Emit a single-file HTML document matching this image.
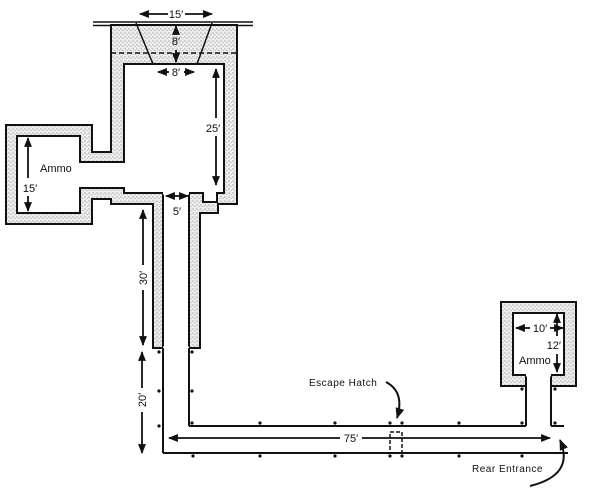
<!DOCTYPE html>
<html><head><meta charset="utf-8"><style>
html,body{margin:0;padding:0;background:#fff;}
svg{display:block;}
text{font-family:"Liberation Sans",sans-serif;fill:#111;}
</style></head><body>
<svg width="600" height="490" viewBox="0 0 600 490" xmlns="http://www.w3.org/2000/svg">
<defs>
<pattern id="st" width="4" height="4" patternUnits="userSpaceOnUse">
<rect width="4" height="4" fill="#ececec"/>
<circle cx="1" cy="1" r="0.55" fill="#666"/>
<circle cx="3" cy="2.6" r="0.45" fill="#888"/>
</pattern>
<marker id="ah" viewBox="0 0 10 10" refX="9" refY="5" markerWidth="5.5" markerHeight="5.5" orient="auto-start-reverse">
<path d="M0,1 L10,5 L0,9 z" fill="#111"/></marker>
</defs>
<g stroke="#111" stroke-width="2" fill="none">
<line x1="93" y1="22" x2="253" y2="22" stroke-width="1.5"/>
<line x1="93" y1="25.5" x2="253" y2="25.5" stroke-width="1.5"/>
<path fill="url(#st)" fill-rule="evenodd" d="M111,25 L237,25 L237,204 L218,204 L218,213 L200,213 L200,348 L153,348 L153,204 L111,204 L111,199 L92,199 L92,224 L6,224 L6,125 L92,125 L92,152 L111,152 Z
M124,64 L224,64 L224,193 L217,193 L217,202 L203,202 L203,193 L189,193 L189,348 L163,348 L163,193 L124,193 L124,188 L80,188 L80,213 L17,213 L17,136 L80,136 L80,162 L124,162 Z"/>
<line x1="163" y1="193" x2="189" y2="193" stroke="#fff" stroke-width="3"/>
<line x1="163" y1="348" x2="189" y2="348" stroke="#fff" stroke-width="3"/>
<line x1="136" y1="23" x2="153" y2="64" stroke-width="1.5"/>
<line x1="212" y1="23" x2="197" y2="64" stroke-width="1.5"/>
<line x1="111" y1="53" x2="237" y2="53" stroke-width="1.5" stroke-dasharray="5,3"/>
<line x1="163" y1="348" x2="163" y2="453"/>
<line x1="163" y1="453" x2="568" y2="453"/>
<line x1="189" y1="348" x2="189" y2="426"/>
<line x1="189" y1="426" x2="526" y2="426"/>
<line x1="526" y1="426" x2="526" y2="375"/>
<line x1="551" y1="375" x2="551" y2="426"/>
<line x1="551" y1="426" x2="564" y2="426"/>
<path fill="url(#st)" fill-rule="evenodd" d="M501,302 L576,302 L576,386 L551,386 L551,375 L526,375 L526,386 L501,386 Z M513,313 L564,313 L564,375 L551,375 L526,375 L513,375 Z"/>
<line x1="526" y1="375" x2="551" y2="375" stroke="#fff" stroke-width="3"/>
<rect x="390" y="432" width="12" height="21" stroke-width="1.5" stroke-dasharray="4,2"/>
</g>
<g fill="#111">
<circle cx="159" cy="352" r="1.6"/><circle cx="159" cy="391" r="1.6"/><circle cx="159" cy="426" r="1.6"/>
<circle cx="192" cy="352" r="1.6"/><circle cx="192" cy="391" r="1.6"/>
<circle cx="192" cy="423" r="1.6"/><circle cx="260" cy="423" r="1.6"/><circle cx="335" cy="423" r="1.6"/><circle cx="390" cy="423" r="1.6"/><circle cx="402" cy="423" r="1.6"/><circle cx="459" cy="423" r="1.6"/><circle cx="522" cy="423" r="1.6"/>
<circle cx="193" cy="456" r="1.6"/><circle cx="260" cy="456" r="1.6"/><circle cx="335" cy="456" r="1.6"/><circle cx="390" cy="456" r="1.6"/><circle cx="402" cy="456" r="1.6"/><circle cx="459" cy="456" r="1.6"/><circle cx="522" cy="456" r="1.6"/>
<circle cx="522" cy="389" r="1.6"/><circle cx="555" cy="389" r="1.6"/><circle cx="555" cy="423" r="1.6"/>
</g>
<g stroke="#111" stroke-width="1.8" fill="none" marker-start="url(#ah)" marker-end="url(#ah)">
<line x1="140" y1="14" x2="168" y2="14" marker-end="none"/>
<line x1="185" y1="14" x2="212" y2="14" marker-start="none"/>
<line x1="176" y1="26" x2="176" y2="33" marker-end="none"/>
<line x1="176" y1="50" x2="176" y2="62" marker-start="none"/>
<line x1="158" y1="72" x2="169" y2="72" marker-end="none"/>
<line x1="184" y1="72" x2="194" y2="72" marker-start="none"/>
<line x1="216" y1="69" x2="216" y2="118" marker-end="none"/>
<line x1="216" y1="136" x2="216" y2="185" marker-start="none"/>
<line x1="28" y1="138" x2="28" y2="178" marker-end="none"/>
<line x1="28" y1="196" x2="28" y2="211" marker-start="none"/>
<line x1="166" y1="196" x2="188" y2="196"/>
<line x1="143" y1="210" x2="143" y2="265" marker-end="none"/>
<line x1="143" y1="290" x2="143" y2="345" marker-start="none"/>
<line x1="142" y1="352" x2="142" y2="388" marker-end="none"/>
<line x1="142" y1="412" x2="142" y2="453" marker-start="none"/>
<line x1="169" y1="438" x2="340" y2="438" marker-end="none"/>
<line x1="362" y1="438" x2="550" y2="438" marker-start="none"/>
<line x1="516" y1="328" x2="530" y2="328" marker-end="none"/>
<line x1="550" y1="328" x2="563" y2="328" marker-start="none"/>
<line x1="557" y1="314" x2="557" y2="336" marker-end="none"/>
<line x1="557" y1="354" x2="557" y2="372" marker-start="none"/>
</g>
<g stroke="#111" stroke-width="2" fill="none" marker-end="url(#ah)">
<path d="M386,382 Q405,392 397,418"/>
<path d="M530,486 Q575,475 560,440"/>
</g>
<g font-size="11">
<text x="176" y="18" text-anchor="middle">15′</text>
<text x="176" y="45" text-anchor="middle">8′</text>
<text x="176" y="76" text-anchor="middle">8′</text>
<text x="213" y="132" text-anchor="middle">25′</text>
<text x="40" y="172">Ammo</text>
<text x="30" y="192" text-anchor="middle">15′</text>
<text x="177" y="215" text-anchor="middle">5′</text>
<text transform="translate(147,278) rotate(-90)" text-anchor="middle">30′</text>
<text transform="translate(146,400) rotate(-90)" text-anchor="middle">20′</text>
<text x="351" y="442" text-anchor="middle">75′</text>
<text x="540" y="332" text-anchor="middle">10′</text>
<text x="561" y="349" text-anchor="end">12′</text>
<text x="519" y="364">Ammo</text>
<text x="309" y="386" font-size="10" letter-spacing="0.5">Escape Hatch</text>
<text x="472" y="472" font-size="10" letter-spacing="0.5">Rear Entrance</text>
</g>
</svg>
</body></html>
